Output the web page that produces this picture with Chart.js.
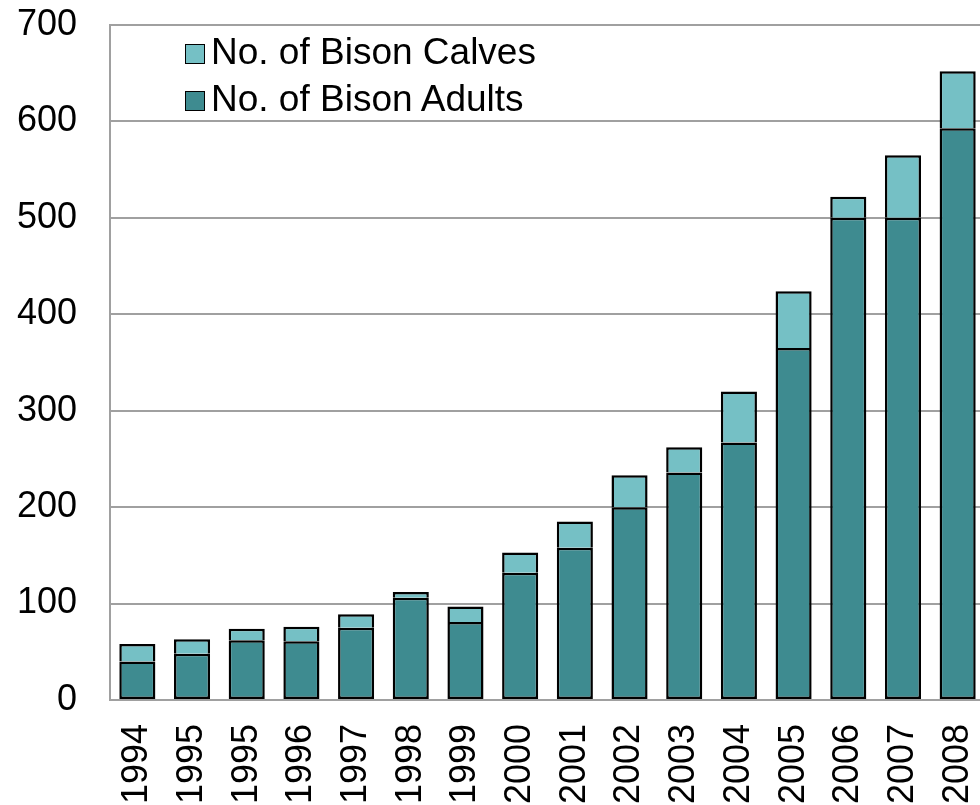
<!DOCTYPE html>
<html>
<head>
<meta charset="utf-8">
<script src="https://cdn.jsdelivr.net/npm/chart.js@4/dist/chart.umd.min.js"></script>
<style>
    html, body { margin: 0; padding: 0; background: #fff; overflow: hidden; width: 980px; height: 805px; }
    #wrap { position: absolute; left: 0; top: 0; width: 1000px; height: 830px; }
    #legend { position: absolute; left: 185px; top: 28px; font-family: 'Liberation Sans', Arial, sans-serif; font-size: 37px; color: #000; }
    .row { height: 47px; line-height: 47px; white-space: nowrap; }
    .box { display: inline-block; width: 18px; height: 18px; border: 1.5px solid #000; margin-right: 6px; vertical-align: 0px; }
</style>
</head>
<body>
<div id="wrap"><canvas id="chart"></canvas></div>
<div id="legend"></div>
<script>
const years = ['1994', '1995', '1995', '1996', '1997', '1998', '1999', '2000', '2001', '2002', '2003', '2004', '2005', '2006', '2007', '2008'];
const adults = [40, 48, 62, 61, 75, 106, 81, 132, 158, 200, 236, 267, 365, 500, 500, 593];
const calves = [18, 15, 12, 15, 14, 6, 16, 21, 27, 33, 26, 53, 59, 22, 65, 59];
const yTicks = [0, 100, 200, 300, 400, 500, 600, 700];

const font = "'Liberation Sans', Arial, sans-serif";
const gridColor = '#a0a0a0';

const datasets = [
    { label: 'No. of Bison Adults', data: adults, backgroundColor: '#3e8b90', borderSkipped: false },
    // no bottom edge on calves, the adults top edge is the dividing line
    { label: 'No. of Bison Calves', data: calves, backgroundColor: '#75c0c5', borderSkipped: 'start' }
];
datasets.forEach(d => {
    d.borderColor = '#000';
    d.borderWidth = 2.5;
    d.barPercentage = 0.66;
    d.categoryPercentage = 1;
});

new Chart(document.getElementById('chart'), {
    type: 'bar',
    data: { labels: years, datasets: datasets },
    options: {
        responsive: true,
        maintainAspectRatio: false,
        animation: false,
        layout: { padding: { left: 0, top: 25, right: 15, bottom: 0 } },
        scales: {
            x: {
                stacked: true,
                afterFit: s => { s.height = 130; s.paddingLeft = 0; s.paddingRight = 0; },
                grid: { display: false, drawTicks: false },
                border: { color: gridColor, width: 2 },
                ticks: { color: '#000', font: { family: font, size: 36 }, minRotation: 90, maxRotation: 90, padding: 24, autoSkip: false }
            },
            y: {
                stacked: true,
                min: 0,
                max: 700,
                afterFit: s => { s.width = 110; s.paddingTop = 0; s.paddingBottom = 0; },
                afterBuildTicks: s => { s.ticks = yTicks.map(v => ({ value: v })); },
                grid: { color: gridColor, lineWidth: 2, drawTicks: false },
                border: { color: gridColor, width: 2 },
                ticks: { color: '#000', font: { family: font, size: 36 }, padding: 33 }
            }
        },
        plugins: {
            legend: { display: false },
            tooltip: { enabled: false }
        }
    }
});

// legend drawn as html, calves listed first like the original
const legend = document.getElementById('legend');
[datasets[1], datasets[0]].forEach(d => {
    const row = document.createElement('div');
    row.className = 'row';
    row.innerHTML = '<span class="box" style="background:' + d.backgroundColor + '"></span>' + d.label;
    legend.appendChild(row);
});
</script>
</body>
</html>
